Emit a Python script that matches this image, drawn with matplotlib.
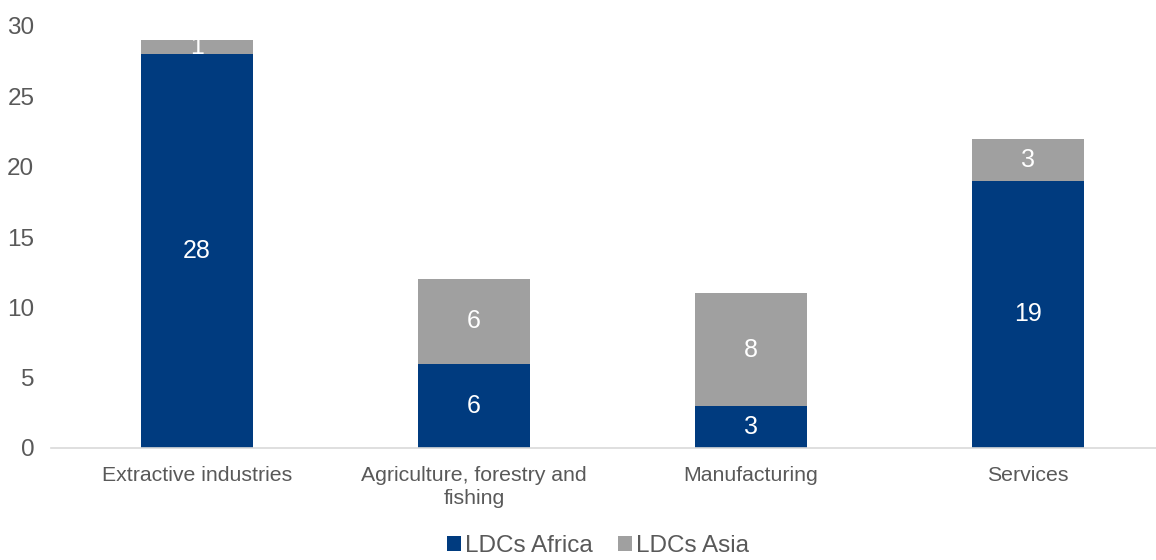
import matplotlib.pyplot as plt
import numpy as np

plt.rcParams['font.family'] = ['Liberation Sans', 'DejaVu Sans']

categories = ['Extractive industries', 'Agriculture, forestry and\nfishing', 'Manufacturing', 'Services']
africa = [28, 6, 3, 19]
asia = [1, 6, 8, 3]

blue = '#003B7F'
grey = '#A0A0A0'
text_col = '#595959'

fig = plt.figure(figsize=(11.56, 5.6), dpi=100)
ax = fig.add_axes([51 / 1156, 112 / 560, 1105 / 1156, 422 / 560])

x = np.arange(len(categories))
w = 0.404
b1 = ax.bar(x, africa, w, color=blue, label='LDCs Africa')
b2 = ax.bar(x, asia, w, bottom=africa, color=grey, label='LDCs Asia')

for i in range(len(x)):
    ax.text(x[i], africa[i] / 2, str(africa[i]), ha='center', va='center', color='white', fontsize=18)
    ax.text(x[i], africa[i] + asia[i] / 2, str(asia[i]), ha='center', va='center', color='white', fontsize=18)

ax.set_xlim(-0.527, 3.462)
ax.set_ylim(0, 30)
ax.set_yticks(range(0, 31, 5))
ax.set_xticks(x)
ax.set_xticklabels(categories, fontsize=15.3, color=text_col, linespacing=1.25)
ax.tick_params(axis='y', labelsize=17.5, labelcolor=text_col, length=0, pad=12)
ax.tick_params(axis='x', length=0, pad=13)
for s in ['top', 'right', 'left']:
    ax.spines[s].set_visible(False)
ax.spines['bottom'].set_color('#D9D9D9')
ax.spines['bottom'].set_linewidth(1.2)

fig.legend(handles=[b1, b2], loc='center', bbox_to_anchor=(598 / 1156, 1 - 546 / 560), ncol=2,
           frameon=False, fontsize=17.5, labelcolor=text_col, handlelength=0.58, handleheight=0.58,
           handletextpad=0.17, columnspacing=1.03)

fig.savefig('out.png', dpi=100)
